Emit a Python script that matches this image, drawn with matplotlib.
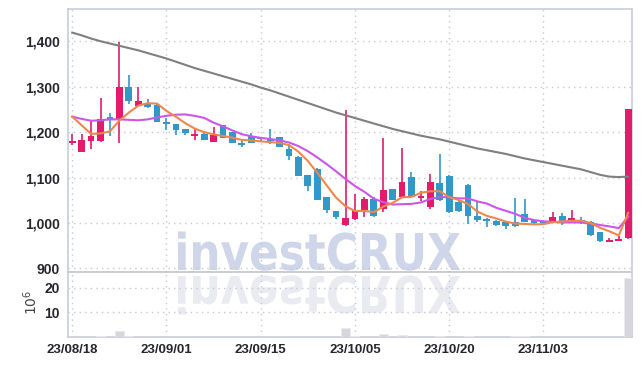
import numpy as np
import pandas as pd
import matplotlib
matplotlib.use('Agg')
import matplotlib.pyplot as plt
from matplotlib.textpath import TextPath
from matplotlib.patches import PathPatch
from matplotlib.font_manager import FontProperties
from matplotlib.transforms import Affine2D, IdentityTransform

# trading days (yy/mm/dd)
dates = ['23/08/18', '23/08/21', '23/08/22', '23/08/23', '23/08/24', '23/08/25',
         '23/08/28', '23/08/29', '23/08/30', '23/08/31', '23/09/01', '23/09/04',
         '23/09/05', '23/09/06', '23/09/07', '23/09/08', '23/09/11', '23/09/12',
         '23/09/13', '23/09/14', '23/09/15', '23/09/18', '23/09/19', '23/09/20',
         '23/09/21', '23/09/22', '23/09/25', '23/09/26', '23/09/27', '23/10/04',
         '23/10/05', '23/10/06', '23/10/10', '23/10/11', '23/10/12', '23/10/13',
         '23/10/16', '23/10/17', '23/10/18', '23/10/19', '23/10/20', '23/10/23',
         '23/10/24', '23/10/25', '23/10/26', '23/10/27', '23/10/30', '23/10/31',
         '23/11/01', '23/11/02', '23/11/03', '23/11/06', '23/11/07', '23/11/08',
         '23/11/09', '23/11/10', '23/11/13', '23/11/14', '23/11/15', '23/11/16']

opens = [1177, 1157, 1181, 1181, 1233, 1228, 1299, 1258, 1263, 1260,
         1222, 1218, 1207, 1192, 1196, 1179, 1215, 1200, 1177, 1191,
         1186, 1185, 1189, 1163, 1145, 1105, 1119, 1057, 1026, 996,
         1008, 1029, 1053, 1030, 1075, 1058, 1102, 1056, 1036, 1088,
         1104, 1047, 1084, 1015, 1009, 1005, 1002, 1003, 1020, 1007,
         1005, 1003, 1016, 1001, 1007, 1003, 979, 959, 961, 966]
highs = [1195, 1196, 1226, 1276, 1241, 1398, 1325, 1300, 1273, 1262,
         1230, 1218, 1207, 1208, 1202, 1212, 1216, 1201, 1182, 1198,
         1190, 1206, 1190, 1174, 1147, 1106, 1120, 1058, 1027, 1249,
         1063, 1058, 1058, 1188, 1075, 1164, 1113, 1071, 1108, 1152,
         1105, 1049, 1085, 1049, 1010, 1006, 1003, 1056, 1052, 1008,
         1006, 1024, 1021, 1029, 1013, 1004, 980, 967, 972, 1250]
lows = [1171, 1156, 1162, 1179, 1191, 1175, 1262, 1258, 1253, 1222,
        1204, 1194, 1193, 1183, 1182, 1178, 1186, 1175, 1167, 1175,
        1179, 1173, 1167, 1138, 1103, 1071, 1050, 1021, 1009, 994,
        1006, 1014, 1013, 1023, 1050, 1057, 1057, 1048, 1030, 1049,
        1022, 1024, 998, 1003, 991, 993, 986, 990, 1001, 997,
        997, 1002, 996, 999, 998, 972, 958, 958, 960, 965]
closes = [1180, 1182, 1191, 1228, 1227, 1299, 1269, 1268, 1255, 1223,
          1218, 1205, 1197, 1196, 1183, 1194, 1188, 1177, 1172, 1177,
          1184, 1180, 1168, 1148, 1104, 1082, 1051, 1029, 1012, 1010,
          1029, 1053, 1015, 1073, 1051, 1090, 1058, 1060, 1090, 1051,
          1025, 1027, 1015, 1007, 1004, 996, 993, 993, 1003, 999,
          999, 1014, 1001, 1010, 1001, 974, 961, 962, 965, 1250]
# volume in millions
volumes = [0.1, 0.15, 0.2, 0.4, 0.15, 2.6, 0.5, 0.15, 0.1, 0.1,
           0.05, 0.05, 0.05, 0.05, 0.05, 0.1, 0.05, 0.05, 0.05, 0.05,
           0.05, 0.1, 0.05, 0.05, 0.1, 0.1, 0.15, 0.1, 0.1, 3.8,
           0.4, 0.2, 0.15, 1.4, 0.2, 1.0, 0.2, 0.1, 0.2, 0.3,
           0.2, 0.1, 0.3, 0.15, 0.1, 0.1, 0.1, 0.3, 0.3, 0.1,
           0.1, 0.1, 0.1, 0.1, 0.05, 0.1, 0.1, 0.05, 0.05, 23.9]

# moving average values before enough history is visible
ma5_head = [1234, 1215, 1196, 1197]
ma10_head = [1234, 1229, 1225, 1226, 1228, 1228, 1227, 1226, 1228]
ma_long = [1419, 1413, 1406, 1400, 1395, 1390, 1385, 1380, 1374, 1368,
           1362, 1355, 1348, 1341, 1335, 1329, 1323, 1317, 1311, 1305,
           1298, 1292, 1285, 1278, 1271, 1264, 1257, 1250, 1243, 1237,
           1231, 1225, 1219, 1213, 1207, 1202, 1197, 1192, 1188, 1184,
           1179, 1174, 1169, 1164, 1160, 1156, 1152, 1147, 1142, 1138,
           1134, 1130, 1126, 1122, 1118, 1112, 1106, 1102, 1101, 1102]

price_ticks = [900, 1000, 1100, 1200, 1300, 1400]
vol_ticks = [10, 20]
date_tick_idx = [0, 10, 20, 30, 40, 50]

UP = '#e31b6d'
DOWN = '#3297c9'
GRID = '#c4c8da'
SPINE = '#c9ccd8'
LABEL = '#26262e'

plt.rcParams['font.family'] = ['Liberation Sans', 'DejaVu Sans']

df = pd.DataFrame({'open': opens, 'high': highs, 'low': lows,
                   'close': closes, 'vol': volumes})
x = np.arange(len(df))
ma5 = df['close'].rolling(5).mean().to_numpy()
ma5[:len(ma5_head)] = ma5_head
ma10 = df['close'].rolling(10).mean().to_numpy()
ma10[:len(ma10_head)] = ma10_head

fig = plt.figure(figsize=(6.42, 3.66), dpi=100)
ax = fig.add_axes([68/642, 1-272/366, 564/642, 263/366])
axv = fig.add_axes([68/642, 1-337/366, 564/642, 65/366], sharex=ax)
for a in (ax, axv):
    a.set_facecolor('none')

# watermark + reflection
fp = FontProperties(family='DejaVu Sans', weight='bold')
tp = TextPath((0, 0), 'investCRUX', size=100, prop=fp)
ext = tp.get_extents()
sx = (460 - 178) / ext.width
sy = 37 / 73.0
main_t = Affine2D().translate(-ext.x0, 0).scale(sx, sy).translate(178, 366 - 270)
refl_t = Affine2D().translate(-ext.x0, 0).scale(sx, -sy).translate(178, 366 - 276)
fig.add_artist(PathPatch(tp, transform=main_t + IdentityTransform(),
                         facecolor='#d0d6e9', edgecolor='none', zorder=-1))
fig.add_artist(PathPatch(tp, transform=refl_t + IdentityTransform(),
                         facecolor='#eaebf1', edgecolor='none', zorder=-1))

# candles
up = df['close'] >= df['open']
colors = np.where(up, UP, DOWN)
body_lo = np.minimum(df['open'], df['close'])
body_h = np.maximum(np.abs(df['close'] - df['open']), 3)
ax.vlines(x, df['low'], df['high'], colors=colors, linewidth=1.2, zorder=3)
ax.bar(x, body_h, bottom=body_lo, width=0.72, color=colors, zorder=4)

ax.plot(x, ma_long, color='#7f7f7f', lw=1.5, zorder=5)
ax.plot(x, ma10, color='#cc55ea', lw=1.5, zorder=5)
ax.plot(x, ma5, color='#f0874a', lw=1.5, zorder=6)

ax.set_xlim(-0.45, 59.4)
ax.set_ylim(892, 1471)
ax.set_yticks(price_ticks)
ax.set_yticklabels([f'{v:,}' for v in price_ticks])
ax.grid(True, linestyle=(0, (1, 3)), color=GRID, lw=1)
ax.tick_params(axis='x', which='both', length=0, labelbottom=False)
ax.tick_params(axis='y', length=0, pad=6, labelsize=10, labelcolor=LABEL)
for lab in ax.get_yticklabels():
    lab.set_fontweight('bold')

# volume
axv.bar(x, df['vol'], width=0.95, color='#d6d6dc', edgecolor='#ececf0',
        linewidth=0.6, zorder=3)
axv.set_ylim(0, 26.4)
axv.set_yticks(vol_ticks)
axv.set_xticks(date_tick_idx)
axv.set_xticklabels([dates[i] for i in date_tick_idx])
axv.grid(True, linestyle=(0, (1, 3)), color=GRID, lw=1)
axv.tick_params(axis='both', length=0, labelsize=10, labelcolor=LABEL)
axv.tick_params(axis='x', labelsize=9.5, pad=5)
axv.tick_params(axis='y', pad=6)
for lab in axv.get_xticklabels() + axv.get_yticklabels():
    lab.set_fontweight('bold')

for a in (ax, axv):
    for s in a.spines.values():
        s.set_color(SPINE)
        s.set_linewidth(1.2)
axv.spines['top'].set_visible(False)
ax.spines['bottom'].set_color('#c2c2ca')

fig.text(31/642, 1-302/366, r'$10^6$', rotation=90, ha='center', va='center',
         fontsize=10, color='#444444', family='DejaVu Sans')

fig.savefig('out.png', dpi=100)
